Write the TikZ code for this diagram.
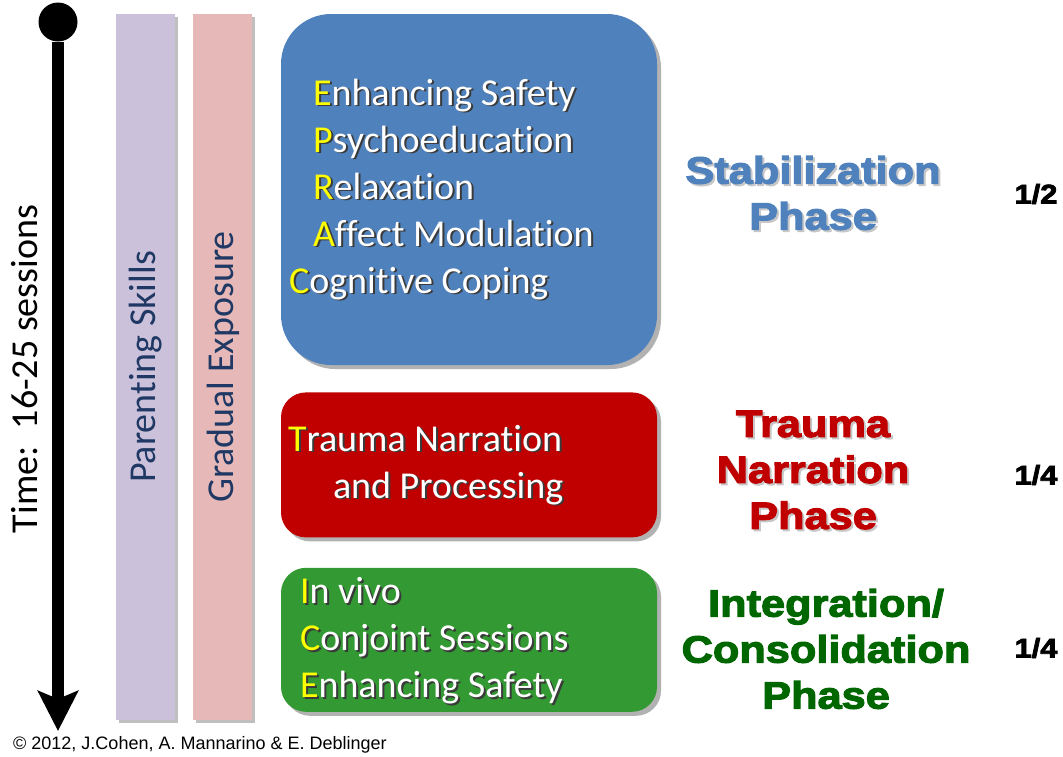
\documentclass[tikz,border=0pt]{standalone}
\usepackage{fontspec}
\setmainfont[Ligatures=NoCommon,RawFeature={-liga}]{Carlito}
\newfontfamily\arialfont{Liberation Sans}
\newfontfamily\phasefont[FakeStretch=1.14,FakeBold=3]{Liberation Sans}
\usetikzlibrary{arrows.meta,positioning,shadows}
\definecolor{stabblue}{HTML}{4F81BD}
\definecolor{traumared}{HTML}{C00000}
\definecolor{integgreen}{HTML}{339933}
\definecolor{integdark}{HTML}{006600}
\definecolor{parentfill}{HTML}{CCC1DA}
\definecolor{exposurefill}{HTML}{E6B9B8}
\definecolor{bartext}{HTML}{1F3864}
\definecolor{initial}{HTML}{FFFF00}
\definecolor{textshade}{HTML}{3A3A3A}

% first letters of the acronyms
\newcommand\inicol{initial}
\newcommand\ini[1]{\textcolor{\inicol}{#1}}

\tikzset{
  startdot/.style={circle, fill=black, minimum size=39pt, inner sep=0pt},
  timeline/.style={line width=12pt, -{Stealth[length=40pt,width=40pt,inset=8pt]}},
  timetext/.style={rotate=90, font=\fontsize{38}{44}\selectfont},
  bar/.style={rectangle, minimum width=59pt, minimum height=706pt, inner sep=0pt,
    drop shadow={shadow xshift=3pt, shadow yshift=-3pt, fill=black, opacity=0.25}},
  barlabel/.style={rotate=90, text=bartext, font=\fontsize{38}{44}\selectfont},
  phasebox/.style={rectangle, rounded corners=25pt, minimum width=376pt, inner sep=0pt,
    drop shadow={shadow xshift=4pt, shadow yshift=-4pt, fill=black, opacity=0.3}},
  boxtext/.style={anchor=west, align=left, inner sep=0pt, text=white,
    font=\fontsize{38}{47}\selectfont},
  txtshadow/.style={text=textshade, execute at begin node={\renewcommand\inicol{textshade}}},
  phaselabel/.style={align=center, inner sep=0pt, font=\phasefont\bfseries\fontsize{38}{46}\selectfont},
  phaseshadow/.style={phaselabel, text=black!22},
  fraction/.style={inner sep=0pt, font=\phasefont\bfseries\fontsize{27}{30}\selectfont}
}

\begin{document}
\begin{tikzpicture}[x=1pt,y=-1pt]
\useasboundingbox (0,0) rectangle (1063,756);

% Time arrow
\node[startdot] (start) at (58,22) {};
\coordinate (timeend) at (58,731);
\draw[timeline] (start) -- (timeend);
\node[timetext] (timelabel) at (25,369) {Time:\ \ 16-25 sessions};

% Side bars
\node[bar, fill=parentfill] (parentbar) at (145.5,367) {};
\node[barlabel] (parentlabel) at (parentbar) {Parenting Skills};
\node[bar, fill=exposurefill, right=18pt of parentbar] (exposurebar) {};
\node[barlabel] (exposurelabel) at (exposurebar) {Gradual Exposure};

% Phase boxes
\node[phasebox, fill=stabblue, minimum height=351pt, rounded corners=50pt] (stabbox) at (469,189.5) {};
\node[phasebox, fill=traumared, minimum height=145pt, below=27pt of stabbox] (traumabox) {};
\node[phasebox, fill=integgreen, minimum height=144pt, below=30pt of traumabox] (integbox) {};

% Box contents
\node[boxtext, txtshadow] (stabtextsh) at ([xshift=34pt,yshift=-1.5pt]stabbox.west) {\ini{E}nhancing Safety\\ \ini{P}sychoeducation\\ \ini{R}elaxation\\ \ini{A}ffect Modulation\\ \hspace*{-24pt}\ini{C}ognitive Coping};
\node[boxtext] (stabtext) at ([xshift=32pt]stabbox.west) {\ini{E}nhancing Safety\\ \ini{P}sychoeducation\\ \ini{R}elaxation\\ \ini{A}ffect Modulation\\ \hspace*{-24pt}\ini{C}ognitive Coping};

\node[boxtext, txtshadow] (traumatextsh) at ([xshift=9pt,yshift=-1.5pt]traumabox.west) {\ini{T}rauma Narration\\ \hspace*{45pt}and Processing};
\node[boxtext] (traumatext) at ([xshift=7pt]traumabox.west) {\ini{T}rauma Narration\\ \hspace*{45pt}and Processing};

\node[boxtext, txtshadow] (integtextsh) at ([xshift=21pt,yshift=-2.5pt]integbox.west) {\ini{I}n vivo\\ \ini{C}onjoint Sessions\\ \ini{E}nhancing Safety};
\node[boxtext] (integtext) at ([xshift=19pt,yshift=-1pt]integbox.west) {\ini{I}n vivo\\ \ini{C}onjoint Sessions\\ \ini{E}nhancing Safety};

% Phase names
\node[phaseshadow] (stabnamesh) at (815,195) {Stabilization\\Phase};
\node[phaselabel, text=stabblue] (stabname) at (813,193) {Stabilization\\Phase};
\node[phaseshadow] (traumanamesh) at (815,472) {Trauma\\Narration\\Phase};
\node[phaselabel, text=traumared] (traumaname) at (813,470) {Trauma\\Narration\\Phase};
\node[phaselabel, text=integdark] (integname) at (826,649) {Integration/\\Consolidation\\Phase};

% Share of the sessions
\node[fraction] (stabshare) at (1036,194) {1/2};
\node[fraction] (traumashare) at (1036,475) {1/4};
\node[fraction] (integshare) at (1036,648) {1/4};

\node[anchor=west, inner sep=0pt, font=\arialfont\fontsize{18}{21}\selectfont] (credit) at (13,745)
  {\textcopyright{} 2012, J.Cohen, A. Mannarino \& E. Deblinger};
\end{tikzpicture}
\end{document}
